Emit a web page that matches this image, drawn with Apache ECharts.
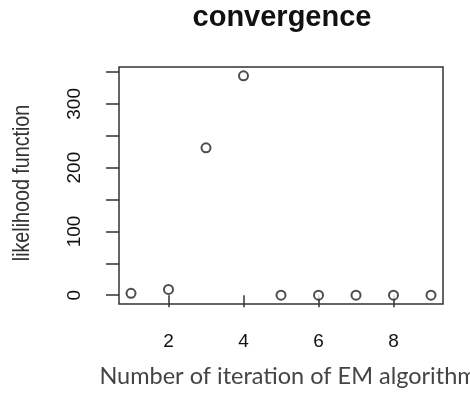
<!DOCTYPE html>
<html>
<head>
<meta charset="utf-8">
<script src="https://cdn.jsdelivr.net/npm/echarts@6/dist/echarts.min.js"></script>
<style>
    html, body { margin: 0; padding: 0; background: #fff; }
    #chart { width: 470px; height: 398px; }
</style>
</head>
<body>
<div id="chart"></div>
<script>
var iterations = [1, 2, 3, 4, 5, 6, 7, 8, 9];
var likelihood = [3, 9, 231, 344, 0, 0, 0, 0, 0];
var xTickValues = [2, 4, 6, 8];
var yTickValues = [0, 50, 100, 150, 200, 250, 300, 350];
var yLabelValues = [0, 100, 200, 300];

function initConvergenceChart() {
    // R style axis range: data range padded by 4% each side
    var xLo = Math.min.apply(null, iterations), xHi = Math.max.apply(null, iterations);
    var yLo = Math.min.apply(null, likelihood), yHi = Math.max.apply(null, likelihood);
    var xPad = (xHi - xLo) * 0.04, yPad = (yHi - yLo) * 0.04;

    var points = iterations.map(function (x, i) {
        return [x, likelihood[i]];
    });

    var option = {
        animation: false,
        title: {
            text: 'convergence',
            left: 277,
            top: -2,
            textAlign: 'center',
            textStyle: {
                fontFamily: 'Liberation Sans',
                fontWeight: 'bold',
                fontSize: 29,
                lineHeight: 29,
                color: '#111'
            }
        },
        graphic: [
            {
                // y title, a narrow face in the original
                type: 'text',
                x: 22,
                y: 183,
                rotation: Math.PI / 2,
                scaleX: 0.82,
                style: {
                    text: 'likelihood function',
                    fontFamily: 'Liberation Sans',
                    fontSize: 24,
                    fill: '#333',
                    align: 'center',
                    verticalAlign: 'middle'
                }
            }
        ],
        grid: {
            left: 119,
            right: 27,
            top: 67,
            bottom: 94,
            outerBoundsMode: 'none',
            show: true,
            borderColor: '#333',
            borderWidth: 1.5
        },
        xAxis: {
            type: 'value',
            min: xLo - xPad,
            max: xHi + xPad,
            name: 'Number of iteration of EM algorithm',
            nameLocation: 'middle',
            nameGap: 60,
            nameTextStyle: {
                fontFamily: 'Lato',
                fontSize: 23.5,
                color: '#444',
                padding: [0, 0, 0, 14]
            },
            axisLine: {show: false},
            splitLine: {show: false},
            axisTick: {
                show: true,
                length: 12,
                customValues: xTickValues,
                lineStyle: {color: '#333', width: 1.5}
            },
            axisLabel: {
                customValues: xTickValues,
                margin: 28,
                fontFamily: 'Liberation Sans',
                fontSize: 19,
                color: '#111'
            }
        },
        yAxis: {
            type: 'value',
            min: yLo - yPad,
            max: yHi + yPad,
            axisLine: {show: false},
            splitLine: {show: false},
            axisTick: {
                show: true,
                length: 13,
                customValues: yTickValues,
                lineStyle: {color: '#333', width: 1.5}
            },
            axisLabel: {
                customValues: yLabelValues,
                rotate: 90,
                margin: 35,
                fontFamily: 'Liberation Sans',
                fontSize: 19,
                color: '#111'
            }
        },
        series: [
            {
                name: 'likelihood',
                type: 'scatter',
                symbol: 'emptyCircle',
                symbolSize: 9,
                itemStyle: {
                    color: '#222',
                    borderColor: '#222',
                    borderWidth: 1.5
                },
                data: points
            }
        ]
    };

    var chart = echarts.init(document.getElementById('chart'));
    chart.setOption(option);
}

initConvergenceChart();
</script>
</body>
</html>
